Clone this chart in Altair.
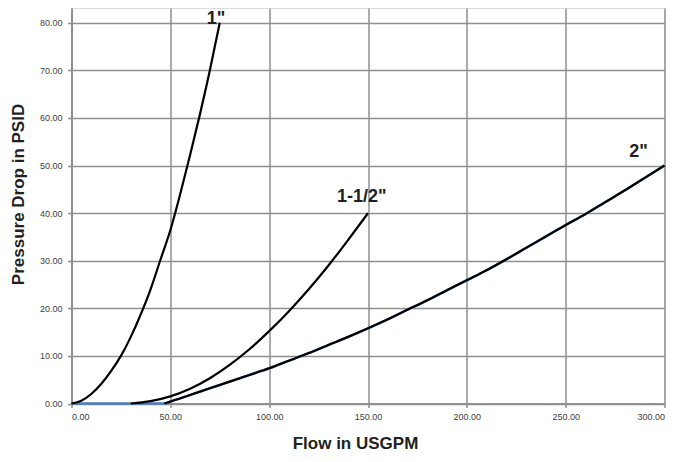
import altair as alt
import pandas as pd

# ---- data ----
flow_1 = [0, 5, 10, 15, 20, 25, 30, 35, 40, 45, 50, 55, 60, 65, 70, 75]
psi_1 = [0, 0.6, 2.0, 4.1, 6.8, 10, 14, 18.7, 24, 30.2, 36.4, 44, 52.2, 60.8, 70, 80]

flow_15 = [30, 40, 50, 60, 70, 80, 90, 100, 110, 120, 130, 140, 150]
psi_15 = [0, 0.5, 1.5, 3.1, 5.3, 8.1, 11.4, 15.2, 19.4, 24.0, 29.0, 34.4, 40]

flow_2 = [47, 50, 60, 70, 80, 90, 100, 110, 120, 130, 140, 150, 160, 170, 180,
          190, 200, 210, 220, 230, 240, 250, 260, 270, 280, 290, 300]
psi_2 = [0, 0.4, 1.8, 3.2, 4.6, 6.0, 7.4, 9.0, 10.6, 12.3, 14.0, 15.8, 17.7, 19.7,
         21.7, 23.8, 25.9, 28.0, 30.3, 32.7, 35.1, 37.5, 39.8, 42.3, 44.8, 47.4, 50]

# blue base series (zero run-in, then under the 2" curve)
flow_blue = [0, 20] + flow_2
psi_blue = [0, 0] + psi_2

label_text = ['1"', '1-1/2"', '2"']
label_x = [73.1, 146.9, 286.8]
label_y = [80.7, 43.4, 52.9]

x_ticks = [0, 50, 100, 150, 200, 250, 300]
y_ticks = [0, 10, 20, 30, 40, 50, 60, 70, 80]

# ---- tables ----
curves = pd.concat([
    pd.DataFrame({"flow": flow_1, "psi": psi_1, "series": "1in"}),
    pd.DataFrame({"flow": flow_15, "psi": psi_15, "series": "1.5in"}),
    pd.DataFrame({"flow": flow_2, "psi": psi_2, "series": "2in"}),
])
blue = pd.DataFrame({"flow": flow_blue, "psi": psi_blue})
labels = pd.DataFrame({"label": label_text, "flow": label_x, "psi": label_y})

grid_col = "#8f8f8f"
x_scale = alt.Scale(domain=[0, 300], nice=False, zero=True)
y_scale = alt.Scale(domain=[0, 83.1], nice=False, zero=True)

x_axis = alt.Axis(
    title="Flow in USGPM", values=x_ticks, format=".2f",
    labelFont="Liberation Sans", labelFontSize=9, labelColor="#404040",
    labelPadding=4.5, tickSize=4, tickColor=grid_col, tickWidth=1.5,
    domainColor=grid_col, domainWidth=2,
    gridColor=grid_col, gridWidth=1.5,
    titleFont="Liberation Sans", titleFontSize=17, titleFontWeight="bold",
    titleColor="#231f20", titleX=283.5, titleY=40, titleBaseline="middle",
    titleAlign="center",
)
y_axis = alt.Axis(
    title="Pressure Drop in PSID", values=y_ticks, format=".2f",
    labelFont="Liberation Sans", labelFontSize=9, labelColor="#404040",
    labelPadding=5.5, tickSize=4, tickColor=grid_col, tickWidth=1.5,
    domainColor=grid_col, domainWidth=2,
    gridColor=grid_col, gridWidth=1.5,
    titleFont="Liberation Sans", titleFontSize=17, titleFontWeight="bold",
    titleColor="#231f20", titleX=-53.5, titleY=186, titleBaseline="middle",
    titleAlign="center", titleAngle=270,
)

base_blue = alt.Chart(blue).mark_line(
    color="#4a7ebb", strokeWidth=2.5, interpolate="monotone"
).encode(
    x=alt.X("flow:Q", scale=x_scale, axis=x_axis),
    y=alt.Y("psi:Q", scale=y_scale, axis=y_axis),
)

black = alt.Chart(curves).mark_line(
    color="black", strokeWidth=2.2, interpolate="monotone"
).encode(
    x=alt.X("flow:Q", scale=x_scale),
    y=alt.Y("psi:Q", scale=y_scale),
    detail="series:N",
)

text = alt.Chart(labels).mark_text(
    font="Liberation Sans", fontSize=18, fontWeight="bold", color="#231f20",
    align="center", baseline="middle", clip=False,
).encode(
    x=alt.X("flow:Q", scale=x_scale),
    y=alt.Y("psi:Q", scale=y_scale),
    text="label:N",
)

chart = alt.layer(base_blue, black, text).properties(
    width=593, height=395.5,
    autosize=alt.AutoSizeParams(type="none"),
    padding={"left": 63.5, "top": 0, "right": 14, "bottom": 50},
).configure_view(stroke=None).configure(background="white")

chart.save("out.html", embed_options={"renderer": "svg", "actions": False})
